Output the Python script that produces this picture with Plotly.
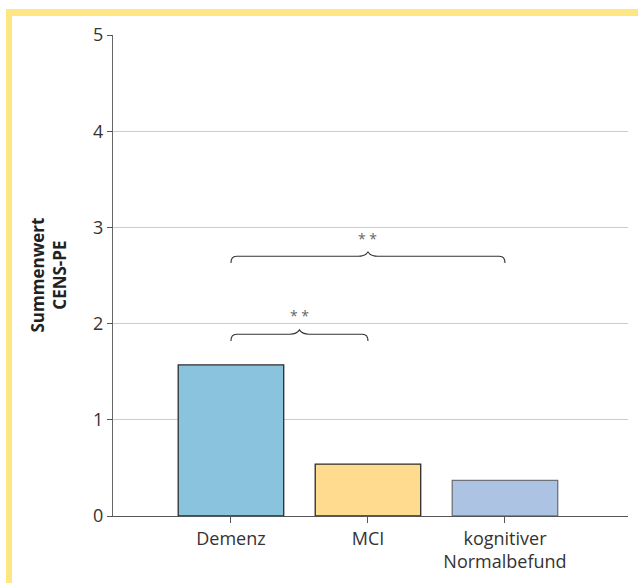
import plotly.graph_objects as go

# Group means of the CENS-PE sum score
categories = ["Demenz", "MCI", "kognitiver<br>Normalbefund"]
values = [1.57, 0.54, 0.37]
bar_colors = ["#8ac3dd", "#fedb8e", "#adc3e4"]
bar_lines = ["#2b2b2b", "#2b2b2b", "#6f7378"]

# Significance brackets: (from group, to group, bracket level, label)
comparisons = [(0, 1, 1.89, "* *"), (0, 2, 2.70, "* *")]

y_ticks = [0, 1, 2, 3, 4, 5]

FONT = "Open Sans"
x_pos = list(range(len(categories)))

fig = go.Figure()
fig.add_trace(go.Bar(
    x=x_pos, y=values, width=0.77,
    marker=dict(color=bar_colors, line=dict(color=bar_lines, width=1.3)),
    hoverinfo="skip",
))


def brace_path(x0, x1, y, d=0.07, rx=0.04, px=0.07, h=0.045):
    xm = (x0 + x1) / 2
    return (f"M {x0},{y - d} Q {x0},{y} {x0 + rx},{y} "
            f"L {xm - px},{y} Q {xm - 0.02},{y} {xm},{y + h} "
            f"Q {xm + 0.02},{y} {xm + px},{y} "
            f"L {x1 - rx},{y} Q {x1},{y} {x1},{y - d}")


shapes = []
annotations = []
for a, b, lvl, lab in comparisons:
    shapes.append(dict(type="path", xref="x", yref="y",
                       path=brace_path(a, b, lvl),
                       line=dict(color="#333333", width=1.1)))
    annotations.append(dict(x=(a + b) / 2, y=lvl + 0.07, xref="x", yref="y",
                            text=lab, showarrow=False, yanchor="bottom",
                            font=dict(family=FONT, size=14, color="#666666")))

# Yellow frame along the top and left edges of the page
W, H = 638, 583
L, R, T, B = 113, 10, 35, 67
pw, ph = W - L - R, H - T - B


def px_x(v):
    return (v - L) / pw


def px_y(v):
    return (H - B - v) / ph


frame = "#fee783"
shapes.append(dict(type="rect", xref="paper", yref="paper", layer="below",
                   x0=px_x(6), x1=px_x(645), y0=px_y(16), y1=px_y(9),
                   fillcolor=frame, line=dict(width=0)))
shapes.append(dict(type="rect", xref="paper", yref="paper", layer="below",
                   x0=px_x(6), x1=px_x(12), y0=px_y(590), y1=px_y(9),
                   fillcolor=frame, line=dict(width=0)))

annotations.append(dict(x=px_x(48), y=0.5, xref="paper", yref="paper",
                        text="<b>Summenwert<br>CENS-PE</b>", showarrow=False,
                        textangle=-90, xanchor="center", yanchor="middle",
                        font=dict(family=FONT, size=17, color="#222222")))

fig.update_layout(
    width=W, height=H,
    margin=dict(l=L, r=R, t=T, b=B),
    paper_bgcolor="white", plot_bgcolor="white",
    showlegend=False,
    shapes=shapes, annotations=annotations,
    font=dict(family=FONT, size=18, color="#333333"),
)
fig.update_xaxes(
    type="linear", range=[-0.861, 2.898],
    tickvals=x_pos, ticktext=categories,
    ticks="outside", ticklen=6, tickcolor="#555555", tickwidth=1,
    showline=True, linecolor="#555555", linewidth=1,
    showgrid=False, zeroline=False,
    tickfont=dict(family=FONT, size=18, color="#333333"),
)
fig.update_yaxes(
    range=[0, 5], tickvals=y_ticks,
    ticks="outside", ticklen=5, tickcolor="#555555", tickwidth=1,
    showline=True, linecolor="#666666", linewidth=1,
    showgrid=True, gridcolor="#cccccc", gridwidth=1,
    zeroline=False,
    tickfont=dict(family=FONT, size=18, color="#333333"),
)

fig.write_html("out.html")
